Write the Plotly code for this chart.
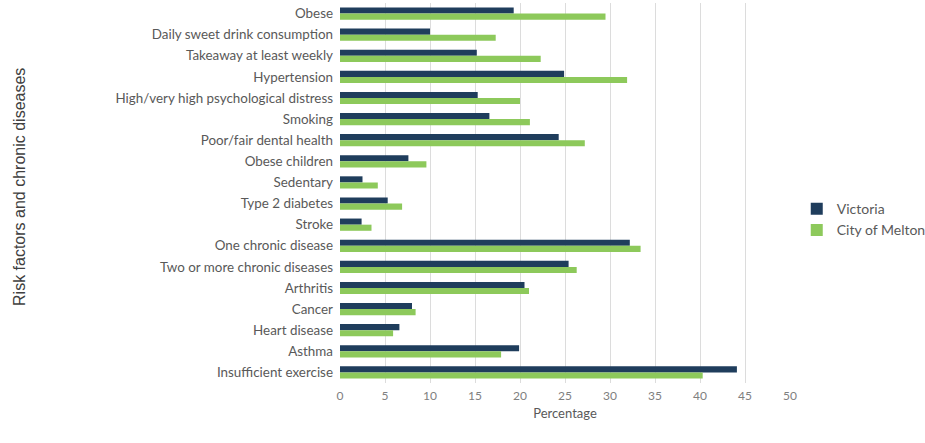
import plotly.graph_objects as go

# Risk factors and chronic diseases, top to bottom
categories = [
    "Obese",
    "Daily sweet drink consumption",
    "Takeaway at least weekly",
    "Hypertension",
    "High/very high psychological distress",
    "Smoking",
    "Poor/fair dental health",
    "Obese children",
    "Sedentary",
    "Type 2 diabetes",
    "Stroke",
    "One chronic disease",
    "Two or more chronic diseases",
    "Arthritis",
    "Cancer",
    "Heart disease",
    "Asthma",
    "Insufficient exercise",
]

victoria = [19.3, 10.0, 15.2, 24.9, 15.3, 16.6, 24.3, 7.6, 2.5, 5.3, 2.4,
            32.2, 25.4, 20.5, 8.0, 6.6, 19.9, 44.1]
melton = [29.5, 17.3, 22.3, 31.9, 20.0, 21.1, 27.2, 9.6, 4.2, 6.9, 3.5,
          33.4, 26.3, 21.0, 8.4, 5.9, 17.9, 40.3]

x_ticks = [0, 5, 10, 15, 20, 25, 30, 35, 40, 45, 50]

NAVY = "#1f3d5c"
GREEN = "#8dc95b"
GREY_TEXT = "#595959"

fig = go.Figure()
fig.add_trace(go.Bar(y=categories, x=victoria, orientation="h",
                     name="Victoria", marker=dict(color=NAVY, line=dict(width=0))))
fig.add_trace(go.Bar(y=categories, x=melton, orientation="h",
                     name="City of Melton", marker=dict(color=GREEN, line=dict(width=0))))

fig.update_layout(
    width=925,
    height=443,
    paper_bgcolor="white",
    plot_bgcolor="white",
    barmode="group",
    bargap=0.42,
    bargroupgap=0,
    margin=dict(l=340, r=135, t=3, b=60, autoexpand=False),
    font=dict(family="Lato, 'Open Sans', sans-serif", size=12, color=GREY_TEXT),
    xaxis=dict(
        range=[0, 50],
        tickvals=x_ticks,
        ticktext=[str(v) for v in x_ticks],
        showgrid=True,
        gridcolor="#dcdcdc",
        gridwidth=1,
        zeroline=False,
        showline=False,
        tickfont=dict(size=12, color="#808080"),
        ticks="",
        ticklabelstandoff=4,
        title=dict(text="Percentage", font=dict(size=13, color=GREY_TEXT), standoff=6),
    ),
    yaxis=dict(
        autorange="reversed",
        showgrid=False,
        zeroline=False,
        showline=False,
        ticks="",
        tickfont=dict(size=13.4, color=GREY_TEXT),
        ticklabelstandoff=6,
    ),
    legend=dict(
        x=1.015,
        y=0.43,
        xanchor="left",
        yanchor="middle",
        font=dict(size=14, color=GREY_TEXT),
        bgcolor="rgba(0,0,0,0)",
        tracegroupgap=0,
    ),
    annotations=[
        dict(
            text="Risk factors and chronic diseases",
            xref="paper", yref="paper",
            x=-0.711, y=0.516,
            xanchor="center", yanchor="middle",
            textangle=-90,
            showarrow=False,
            font=dict(family="Liberation Sans, Arial, sans-serif", size=16, color="#404040"),
        )
    ],
)

fig.write_html("out.html")
